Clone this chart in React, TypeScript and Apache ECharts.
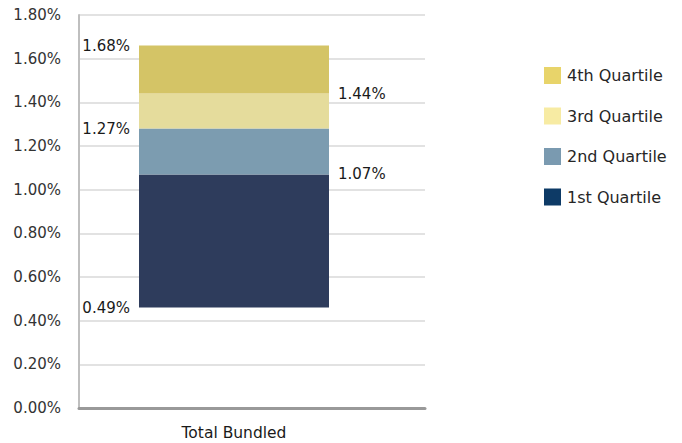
import React, { useEffect, useRef } from "react";
import * as echarts from "echarts";

const categories = ["Total Bundled"];
// boundaries of the stacked segments, bottom to top
const boundaries = [0.46, 1.07, 1.28, 1.44, 1.66];
const boundaryLabels = ["0.49%", "1.07%", "1.27%", "1.44%", "1.68%"];
const labelSides = ["left", "right", "left", "right", "left"];
const seriesNames = ["1st Quartile", "2nd Quartile", "3rd Quartile", "4th Quartile"];
const barColors = ["#2e3c5c", "#7c9cb0", "#e5dc9c", "#d4c466"];
const legendColors = ["#0d3a66", "#7a9ab0", "#f7eba3", "#e8d46a"];
const yMax = 1.8;
const yInterval = 0.2;

const FONT = "DejaVu Sans";

export default function App() {
  const ref = useRef<HTMLDivElement>(null);
  useEffect(() => {
    if (!ref.current) return;
    const chart = echarts.init(ref.current, undefined, { renderer: "svg" });
    const segs = seriesNames.map((name, i) => ({
      name,
      type: "bar",
      stack: "q",
      xAxisIndex: 0,
      yAxisIndex: 0,
      barWidth: 190,
      itemStyle: { color: barColors[i] },
      data: [+(boundaries[i + 1] - boundaries[i]).toFixed(4)],
    }));
    chart.setOption({
      animation: false,
      textStyle: { fontFamily: FONT },
      grid: [
        { left: 79, top: 15, width: 310, height: 393 },
        { left: 79, top: 15, width: 346, height: 393 },
      ],
      legend: {
        orient: "vertical",
        left: 539,
        top: 62,
        itemWidth: 17,
        itemHeight: 17,
        itemGap: 23.5,
        textStyle: { fontFamily: FONT, fontSize: 16, color: "#262626", padding: [0, 0, 0, 1] },
        data: [3, 2, 1, 0].map((i) => ({
          name: seriesNames[i],
          icon: "rect",
          itemStyle: { color: legendColors[i] },
        })),
      },
      xAxis: [
        {
          type: "category",
          gridIndex: 0,
          data: categories,
          axisLine: { show: false },
          axisTick: { show: false },
          axisLabel: { fontFamily: FONT, fontSize: 15.5, color: "#1a1a1a", margin: 17 },
        },
        {
          type: "category",
          gridIndex: 1,
          data: [""],
          axisLine: { show: true, lineStyle: { color: "#999", width: 3 } },
          axisTick: { show: false },
          axisLabel: { show: false },
        },
      ],
      yAxis: [
        { type: "value", gridIndex: 0, min: 0, max: yMax, interval: yInterval, show: false },
        {
          type: "value",
          gridIndex: 1,
          min: 0,
          max: yMax,
          interval: yInterval,
          axisLine: { show: true, lineStyle: { color: "#bfbfbf", width: 2 } },
          axisTick: { show: false },
          splitLine: { show: true, lineStyle: { color: "#d9d9d9", width: 1.5 } },
          axisLabel: {
            fontFamily: FONT,
            fontSize: 15,
            color: "#333",
            margin: 18,
            formatter: (v: number) => v.toFixed(2) + "%",
          },
        },
      ],
      series: [
        {
          name: "base",
          type: "bar",
          stack: "q",
          xAxisIndex: 0,
          yAxisIndex: 0,
          barWidth: 190,
          itemStyle: { color: "transparent" },
          data: [boundaries[0]],
        },
        ...segs,
        {
          name: "labels",
          type: "scatter",
          xAxisIndex: 0,
          yAxisIndex: 0,
          symbolSize: 0,
          silent: true,
          data: boundaries.map((b, i) => ({
            value: [0, b],
            label: {
              show: true,
              position: labelSides[i],
              distance: 104,
              formatter: boundaryLabels[i],
              fontFamily: FONT,
              fontSize: 15,
              color: "#1a1a1a",
              opacity: 1,
            },
          })),
        },
      ],
    });
    return () => chart.dispose();
  }, []);
  return (
    <div
      ref={ref}
      style={{ position: "fixed", left: 0, top: 0, width: 682, height: 443, background: "#fff" }}
    />
  );
}
